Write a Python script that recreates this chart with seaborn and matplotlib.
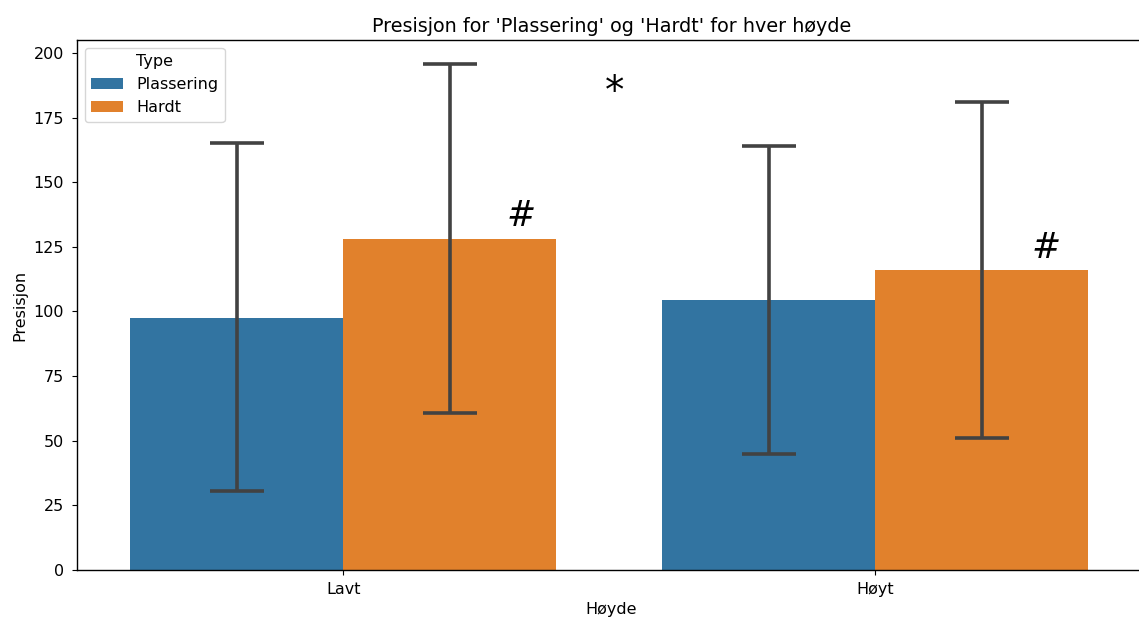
import matplotlib
matplotlib.use("Agg")
import matplotlib.pyplot as plt
import seaborn as sns
import pandas as pd
import numpy as np

# Data
heights = ["Lavt", "Lavt", "Høyt", "Høyt"]
types = ["Plassering", "Hardt", "Plassering", "Hardt"]
means = [97.6, 128.1, 104.4, 116.0]
err_low = [30.6, 60.7, 44.9, 51.1]
err_high = [165.2, 195.7, 164.0, 181.0]

df = pd.DataFrame({"Høyde": heights, "Type": types, "Presisjon": means,
                   "lo": err_low, "hi": err_high})

plt.rcParams.update({"font.size": 11.5, "axes.titlesize": 13.8,
                     "axes.labelsize": 11.5, "xtick.labelsize": 11.5,
                     "ytick.labelsize": 11.5, "legend.fontsize": 11.5,
                     "legend.title_fontsize": 11.5,
                     "axes.linewidth": 1.0,
                     "ytick.major.pad": 6, "xtick.major.pad": 5})

fig = plt.figure(figsize=(11.39, 6.22), dpi=100)
ax = fig.add_axes([77 / 1139, 1 - 570 / 622, (1146 - 77) / 1139, (570 - 40) / 622])

sns.barplot(data=df, x="Høyde", y="Presisjon", hue="Type", errorbar=None, ax=ax)

# Error bars at bar centres taken from the drawn patches
bars = [p for p in ax.patches if p.get_height() > 0 and p.get_width() < 1]
for p in bars:
    cx = p.get_x() + p.get_width() / 2
    h = p.get_height()
    row = df.iloc[int(np.argmin(np.abs(df["Presisjon"].values - h)))]
    ax.errorbar(cx, h, yerr=[[h - row["lo"]], [row["hi"] - h]], fmt="none",
                ecolor=".26", elinewidth=2.6, capsize=19.5, capthick=2.6)

ax.set_ylim(0, 205)
ax.set_xlim(-0.5, (1146 - 342) / 533)
ax.spines["right"].set_visible(False)
ax.set_title("Presisjon for 'Plassering' og 'Hardt' for hver høyde")

ax.text(0.335, 137, "#", fontsize=25, ha="center", va="center", style="italic")
ax.text(1.32, 124.5, "#", fontsize=25, ha="center", va="center", style="italic")
ax.text(0.51, 185, "*", fontsize=28, ha="center", va="center")

sns.move_legend(ax, "upper left")

fig.savefig("out.png", dpi=100)
